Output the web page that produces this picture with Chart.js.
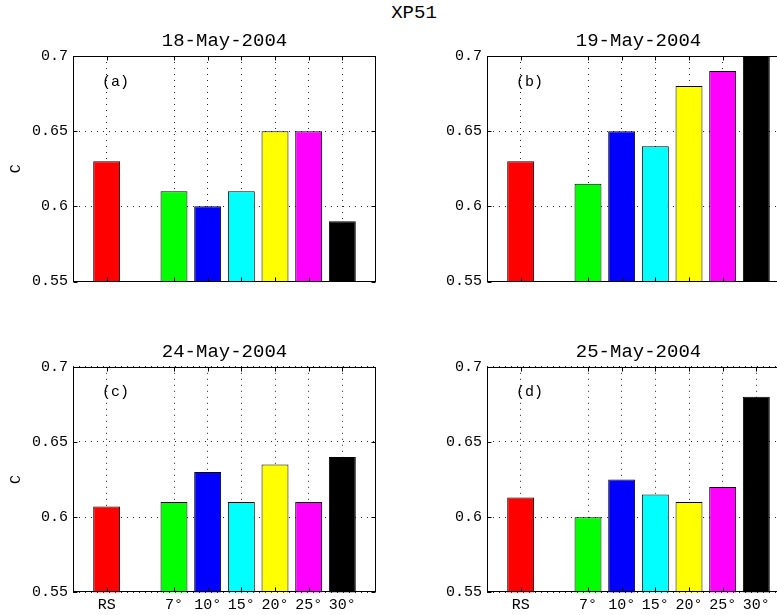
<!DOCTYPE html>
<html>
<head>
<meta charset="utf-8">
<script src="https://cdn.jsdelivr.net/npm/chart.js@4"></script>
<style>
  html, body { margin: 0; padding: 0; background: #fff; overflow: hidden; }
  #fig { position: relative; width: 777px; height: 615px; overflow: hidden; }
  canvas { position: absolute; }
  #suptitle { position: absolute; left: 364px; width: 100px; top: 2px; text-align: center;
    font: 19px 'Liberation Mono', 'DejaVu Sans Mono', monospace; color: #000; }
</style>
</head>
<body>
<div id="fig">
  <div id="suptitle">XP51</div>
  <canvas id="pa" width="390" height="282" style="left:0px;top:30px"></canvas>
  <canvas id="pb" width="400" height="282" style="left:400px;top:30px"></canvas>
  <canvas id="pc" width="390" height="274" style="left:0px;top:341px"></canvas>
  <canvas id="pd" width="400" height="274" style="left:400px;top:341px"></canvas>
</div>
<script>
// data
var categories = ["RS", "7°", "10°", "15°", "20°", "25°", "30°"];
var dates = ["18-May-2004", "19-May-2004", "24-May-2004", "25-May-2004"];
var panelTags = ["(a)", "(b)", "(c)", "(d)"];
var valuesA = [0.630, 0.610, 0.600, 0.610, 0.650, 0.650, 0.590];
var valuesB = [0.630, 0.615, 0.650, 0.640, 0.680, 0.690, 0.700];
var valuesC = [0.607, 0.610, 0.630, 0.610, 0.635, 0.610, 0.640];
var valuesD = [0.613, 0.600, 0.625, 0.615, 0.610, 0.620, 0.680];
var yTicks = [0.55, 0.6, 0.65, 0.7];
var barColors = ["#ff0000", "#00ff00", "#0000ff", "#00ffff", "#ffff00", "#ff00ff", "#000000"];

var FONT = "'Liberation Mono', 'DejaVu Sans Mono', monospace";
Chart.defaults.font.family = FONT;
Chart.defaults.color = "#000";

// RS, a gap, then the angles; one empty slot at each end
function slots(arr, fill) {
  return [fill, arr[0], fill].concat(arr.slice(1), [fill]);
}
var xLabels = slots(categories, "");

// matlab style box, inward ticks and the (a) tag
var boxPlugin = {
  id: "box",
  afterDatasetsDraw: function(chart, args, opts) {
    var ctx = chart.ctx, a = chart.chartArea;
    var xs = chart.scales.x, ys = chart.scales.y;
    var L = Math.round(a.left) + 0.5, R = Math.round(a.right) - 0.5;
    var T = Math.round(a.top) + 0.5, B = Math.round(a.bottom) - 0.5;
    ctx.save();
    ctx.strokeStyle = "#000";
    ctx.lineWidth = 1;
    ctx.strokeRect(L, T, R - L, B - T);
    ctx.beginPath();
    xLabels.forEach(function(lab, i) {
      if (!lab) return;
      var px = Math.round(xs.getPixelForValue(i)) + 0.5;
      ctx.moveTo(px, B); ctx.lineTo(px, B - 4);
      ctx.moveTo(px, T); ctx.lineTo(px, T + 4);
    });
    yTicks.forEach(function(v) {
      var py = Math.round(ys.getPixelForValue(v)) + 0.5;
      ctx.moveTo(L, py); ctx.lineTo(L + 4, py);
      ctx.moveTo(R, py); ctx.lineTo(R - 4, py);
    });
    ctx.stroke();
    ctx.font = "15px " + FONT;
    ctx.fillStyle = "#000";
    ctx.textAlign = "left";
    ctx.textBaseline = "middle";
    ctx.fillText(opts.tag, a.left + 0.86 * (a.width / 9), ys.getPixelForValue(0.683));
    ctx.restore();
  }
};

function makePanel(id, values, date, tag, opt) {
  var gridColor = function(c) {
    return xLabels[c.index] ? "rgba(0,0,0,0.85)" : "rgba(0,0,0,0)";
  };
  new Chart(id, {
    type: "bar",
    data: {
      labels: xLabels,
      datasets: [{
        data: slots(values, null),
        backgroundColor: slots(barColors, "#fff"),
        borderColor: "#000",
        borderWidth: 1,
        barPercentage: 0.8,
        categoryPercentage: 1
      }]
    },
    options: {
      responsive: false,
      animation: false,
      events: [],
      layout: { padding: { left: 0, right: opt.padRight, top: 0, bottom: 0 } },
      plugins: {
        legend: { display: false },
        tooltip: { enabled: false },
        title: {
          display: true,
          text: date,
          fullSize: false,
          font: { size: 19, weight: "normal" },
          padding: { top: 0, bottom: opt.titleGap }
        },
        box: { tag: tag }
      },
      scales: {
        x: {
          type: "category",
          offset: false,
          border: { display: false, dash: [1, 5] },
          grid: { color: gridColor, lineWidth: 1, drawTicks: false, offset: false },
          ticks: {
            display: opt.showX,
            autoSkip: false,
            maxRotation: 0,
            padding: 4,
            font: { size: 15 }
          },
          afterFit: function(s) { s.height = opt.xHeight; }
        },
        y: {
          min: 0.55,
          max: 0.7,
          border: { display: false, dash: [1, 5] },
          grid: { color: "rgba(0,0,0,0.85)", lineWidth: 1, drawTicks: false },
          ticks: {
            padding: 5,
            font: { size: 15 },
            callback: function(v) { return String(v); }
          },
          afterBuildTicks: function(s) {
            s.ticks = yTicks.map(function(v) { return { value: v }; });
          },
          title: {
            display: opt.showY,
            text: "C",
            font: { size: 15 },
            padding: { top: 7, bottom: 0 }
          },
          afterFit: function(s) { s.width = opt.yWidth; }
        }
      }
    },
    plugins: [boxPlugin]
  });
}

makePanel("pa", valuesA, dates[0], panelTags[0],
  { padRight: 14, yWidth: 73, xHeight: 30.5, titleGap: 3.2, showX: false, showY: true });
makePanel("pb", valuesB, dates[1], panelTags[1],
  { padRight: 10, yWidth: 87, xHeight: 30.5, titleGap: 3.2, showX: false, showY: false });
makePanel("pc", valuesC, dates[2], panelTags[2],
  { padRight: 14, yWidth: 73, xHeight: 22.7, titleGap: 3, showX: true, showY: true });
makePanel("pd", valuesD, dates[3], panelTags[3],
  { padRight: 10, yWidth: 87, xHeight: 22.7, titleGap: 3, showX: true, showY: false });
</script>
</body>
</html>
